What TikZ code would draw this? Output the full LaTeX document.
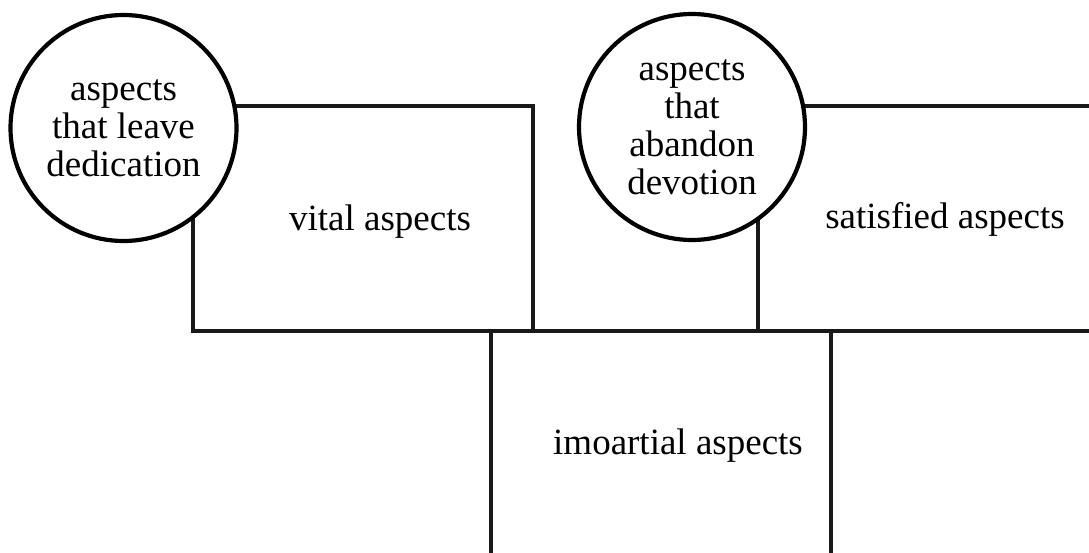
\documentclass[tikz,border=0pt]{standalone}
\usepackage{fontspec}
\setmainfont{Liberation Serif}
\usepackage{tikz}
\usetikzlibrary{positioning, calc}

\begin{document}
\begin{tikzpicture}[
  x=1pt, y=-1pt,
  line width=4.2pt,
  aspectbox/.style={rectangle, draw=black!90, fill=white, outer sep=0pt, inner sep=0pt, minimum width=340pt, minimum height=225pt},
  aspectcircle/.style={circle, draw=black, fill=white, outer sep=0pt, inner sep=0pt, minimum size=226pt, align=center, font=\fontsize{37}{38}\selectfont},
  aspectlabel/.style={inner sep=0pt, anchor=base, font=\fontsize{37}{38}\selectfont}
]
\useasboundingbox (0,0) rectangle (1089,552);

% Boxes: vital and satisfied on top, imoartial below between them
\node[aspectbox] (vital) at (363,218.5) {};
\node[aspectbox, right=225pt of vital] (satisfied) {};
\node[aspectbox, below right=0pt and -42pt of vital.south east] (imoartial) {};

\node[aspectlabel] (vitaltext) at ([xshift=17pt, yshift=-11.5pt]vital.center) {vital aspects};
\node[aspectlabel] (satisfiedtext) at ([xshift=17pt, yshift=-10pt]satisfied.center) {satisfied aspects};
\node[aspectlabel] (imoartialtext) at ([xshift=17pt, yshift=-11pt]imoartial.center) {imoartial aspects};

% Circles over the top left corners
\node[aspectcircle] (leave) at (123.5,128) {aspects\\that leave\\dedication};
\node[aspectcircle] (abandon) at (692,127) {aspects\\that\\abandon\\devotion};

\end{tikzpicture}
\end{document}
